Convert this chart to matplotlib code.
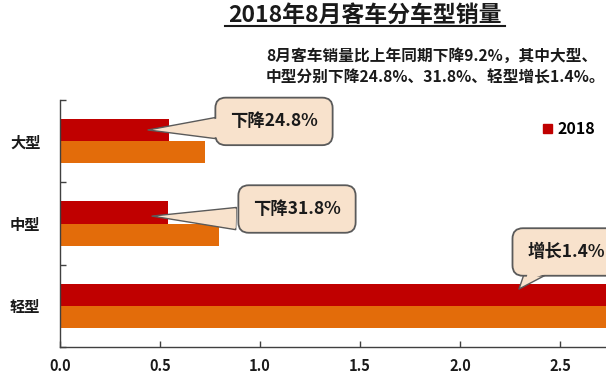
import matplotlib
matplotlib.use("Agg")
import matplotlib.pyplot as plt
from matplotlib.lines import Line2D
from matplotlib.patches import Patch

plt.rcParams['font.family'] = ['Noto Sans CJK SC', 'DejaVu Sans']
plt.rcParams['font.weight'] = 'bold'

categories = ['轻型', '中型', '大型']
values_2018 = [2.85, 0.54, 0.545]
values_2017 = [2.81, 0.795, 0.725]
series_names = ['2018', '2017']
xticks = [0.0, 0.5, 1.0, 1.5, 2.0, 2.5]
title = '2018年8月客车分车型销量'
subtitle_1 = '8月客车销量比上年同期下降9.2%，其中大型、'
subtitle_2 = '中型分别下降24.8%、31.8%、轻型增长1.4%。'
callouts = ['增长1.4%', '下降31.8%', '下降24.8%']

RED = '#C00000'
ORANGE = '#E36C0A'
BOX_FC = '#F8E2CC'
BOX_EC = '#5A5A5A'

fig = plt.figure(figsize=(6.06, 3.88), dpi=100)
ax = fig.add_axes([60/606, 41/388, 546/606, 247/388])

pos = list(range(len(categories)))
h = 0.27
ax.barh([p + h/2 for p in pos], values_2018, height=h, color=RED, label=series_names[0], zorder=2)
ax.barh([p - h/2 for p in pos], values_2017, height=h, color=ORANGE, label=series_names[1], zorder=2)

ax.set_xlim(0, 546/200)
ax.set_ylim(-0.5, len(categories) - 0.5)

for s in ['top', 'right']:
    ax.spines[s].set_visible(False)
for s in ['left', 'bottom']:
    ax.spines[s].set_color('#404040')
    ax.spines[s].set_linewidth(1.0)

ax.set_xticks(xticks)
ax.set_xticklabels([f'{t:.1f}' for t in xticks], fontsize=10.5, fontweight='bold', color='#1a1a1a')
ax.tick_params(axis='x', direction='in', length=4, width=1, color='#404040', pad=8)

ax.set_yticks(pos)
ax.set_yticklabels(categories, fontsize=11, fontweight='bold', color='#1a1a1a')
ax.tick_params(axis='y', which='major', length=0, pad=14)
ax.set_yticks([p - 0.5 for p in pos] + [len(categories) - 0.5], minor=True)
ax.tick_params(axis='y', which='minor', direction='in', length=4, width=1, color='#404040')

# callouts: text centre, pointer base (slightly inside the box), pointer tip
callout_text_xy = [(2.53, 0.654), (1.185, 1.176), (1.07, 2.24)]
callout_base_xy = [(2.385, 0.46), (0.88, 1.06), (0.795, 2.16)]
callout_tip_xy = [(2.295, 0.204), (0.46, 1.09), (0.44, 2.136)]
for txt, xyt, base, tip in zip(callouts, callout_text_xy, callout_base_xy, callout_tip_xy):
    ax.annotate(txt, xy=xyt, ha='center', va='center',
                fontsize=12.5, fontweight='bold', color='#1a1a1a', zorder=5,
                bbox=dict(boxstyle='round,pad=0.85,rounding_size=0.6', fc=BOX_FC, ec=BOX_EC, lw=1.3))
    ax.annotate('', xy=tip, xytext=base, zorder=4,
                arrowprops=dict(arrowstyle='wedge,tail_width=1.6,shrink_factor=0.5',
                                mutation_scale=10,
                                fc=BOX_FC, ec=BOX_EC, lw=1.0, shrinkA=0, shrinkB=0))
    ax.annotate('', xy=tip, xytext=base, zorder=6,
                arrowprops=dict(arrowstyle='wedge,tail_width=1.4,shrink_factor=0.5',
                                mutation_scale=10,
                                fc=BOX_FC, ec='none', lw=0, shrinkA=0, shrinkB=8))

ax.legend(handles=[Patch(color=RED, label=series_names[0])], loc='center left',
          bbox_to_anchor=(543/606, 1 - 129/388), bbox_transform=fig.transFigure,
          frameon=False, handlelength=0.55, handleheight=0.55, handletextpad=0.35,
          borderpad=0, borderaxespad=0, prop={'size': 11.5, 'weight': 'bold'})

fig.text(365/606, 1 - 15/388, title, ha='center', va='center', fontsize=16.5,
         fontweight='bold', color='#1a1a1a')
fig.add_artist(Line2D([225/606, 505/606], [1 - 26/388, 1 - 26/388], color='#1a1a1a', lw=1.5,
                      transform=fig.transFigure))
fig.text(266/606, 1 - 56/388, subtitle_1, ha='left', va='center', fontsize=11.3,
         fontweight='bold', color='#1a1a1a')
fig.text(266/606, 1 - 77/388, subtitle_2, ha='left', va='center', fontsize=11.3,
         fontweight='bold', color='#1a1a1a')

fig.savefig('out.png', dpi=100, facecolor='white')
